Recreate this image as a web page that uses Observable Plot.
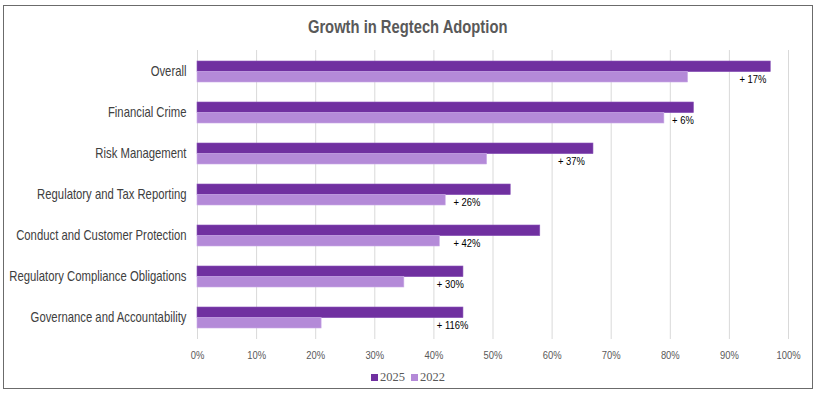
<!DOCTYPE html>
<html>
<head>
<meta charset="utf-8">
<script src="https://cdn.jsdelivr.net/npm/d3@7"></script>
<script src="https://cdn.jsdelivr.net/npm/@observablehq/plot@0.6"></script>
<style>
  html, body { margin: 0; padding: 0; background: #fff; }
  body { width: 820px; height: 397px; position: relative; overflow: hidden;
         font-family: "Liberation Sans", Arial, sans-serif; }
  #frame { position: absolute; left: 3px; top: 5px; width: 808px; height: 382px;
           border: 1px solid #6b6b6b; }
  #title { position: absolute; left: 3px; width: 810px; top: 15px; text-align: center;
           font-size: 18px; font-weight: bold; color: #595959; line-height: 24px; }
  #title span { display: inline-block; transform: scaleX(0.82); transform-origin: center; }
  #chart { position: absolute; left: 0; top: 40px; }
  #legend { position: absolute; left: 3px; width: 810px; top: 369px; text-align: center;
            font-family: "Liberation Serif", "Times New Roman", serif; font-size: 12.5px;
            color: #595959; line-height: 16px; }
  #legend span.sw { display: inline-block; width: 7px; height: 7px; margin-right: 2px; vertical-align: 0px; }
  #legend span.item { margin: 0 3px; }
</style>
</head>
<body>
<div id="frame"></div>
<div id="title"><span>Growth in Regtech Adoption</span></div>
<div id="chart"></div>
<div id="legend"></div>
<script>
const categories = [
  "Overall",
  "Financial Crime",
  "Risk Management",
  "Regulatory and Tax Reporting",
  "Conduct and Customer Protection",
  "Regulatory Compliance Obligations",
  "Governance and Accountability"
];
const series = ["2025", "2022"];
const values2025 = [97, 84, 67, 53, 58, 45, 45];
const values2022 = [83, 79, 49, 42, 41, 35, 21];
const growthLabels = ["+ 17%", "+ 6%", "+ 37%", "+ 26%", "+ 42%", "+ 30%", "+ 116%"];
const growthLabelAt = [91.7, 80.3, 61, 43.3, 43.3, 40.5, 40.5];
const xTicks = [0, 10, 20, 30, 40, 50, 60, 70, 80, 90, 100];

const colors = {"2025": "#7030a0", "2022": "#b48ad8"};
const font = '"Liberation Sans", Arial, sans-serif';

const rows2025 = categories.map((c, i) => ({category: c, value: values2025[i]}));
const rows2022 = categories.map((c, i) => ({category: c, value: values2022[i]}));
const labelRows = categories.map((c, i) => ({category: c, x: growthLabelAt[i], text: growthLabels[i]}));

const plotH = 320, plotTop = 10, plotBottom = 21;
const bandStep = (plotH - plotTop - plotBottom) / categories.length;
const halfBar = bandStep * 0.5 / 2;

const chart = Plot.plot({
  width: 820,
  height: plotH,
  marginLeft: 197,
  marginRight: 32,
  marginTop: plotTop,
  marginBottom: plotBottom,
  style: {fontFamily: font, background: "transparent", overflow: "visible"},
  x: {domain: [0, 100], ticks: xTicks, tickFormat: d => d + "%", label: null},
  y: {domain: categories, paddingInner: 0.5, paddingOuter: 0.25, label: null},
  marks: [
    Plot.ruleX(xTicks, {stroke: "#d9d9d9", strokeWidth: 1}),
    Plot.barX(rows2025, {x: "value", y: "category", fill: colors["2025"], insetBottom: halfBar, stroke: "#8a55b8", strokeWidth: 0.6}),
    Plot.barX(rows2022, {x: "value", y: "category", fill: colors["2022"], insetTop: halfBar, stroke: "#c9a9e6", strokeWidth: 0.6}),
    Plot.text(labelRows, {x: "x", y: "category", text: "text", textAnchor: "start", dy: 7.5, fontSize: 11.5, fill: "#000"}),
    Plot.axisX({ticks: xTicks, tickFormat: d => d + "%", tickSize: 0, tickPadding: 11, fontSize: 11.5, fill: "#595959", label: null}),
    Plot.axisY({tickSize: 0, tickPadding: 11, fontSize: 13.8, fill: "#404040", label: null})
  ]
});
document.getElementById("chart").appendChild(chart);

// condense text horizontally around its anchor point to mimic a narrow typeface
d3.select(chart).selectAll("text").each(function () {
  const t = this.getAttribute("transform");
  if (t) {
    this.setAttribute("transform", t + " scale(0.82,1)");
  } else {
    const x = +(this.getAttribute("x") || 0), y = +(this.getAttribute("y") || 0);
    this.removeAttribute("x");
    this.removeAttribute("y");
    this.setAttribute("transform", `translate(${x},${y}) scale(0.82,1)`);
  }
});

const legend = document.getElementById("legend");
series.forEach(s => {
  const item = document.createElement("span");
  item.className = "item";
  const sw = document.createElement("span");
  sw.className = "sw";
  sw.style.background = colors[s];
  item.appendChild(sw);
  item.appendChild(document.createTextNode(s));
  legend.appendChild(item);
});
</script>
</body>
</html>
